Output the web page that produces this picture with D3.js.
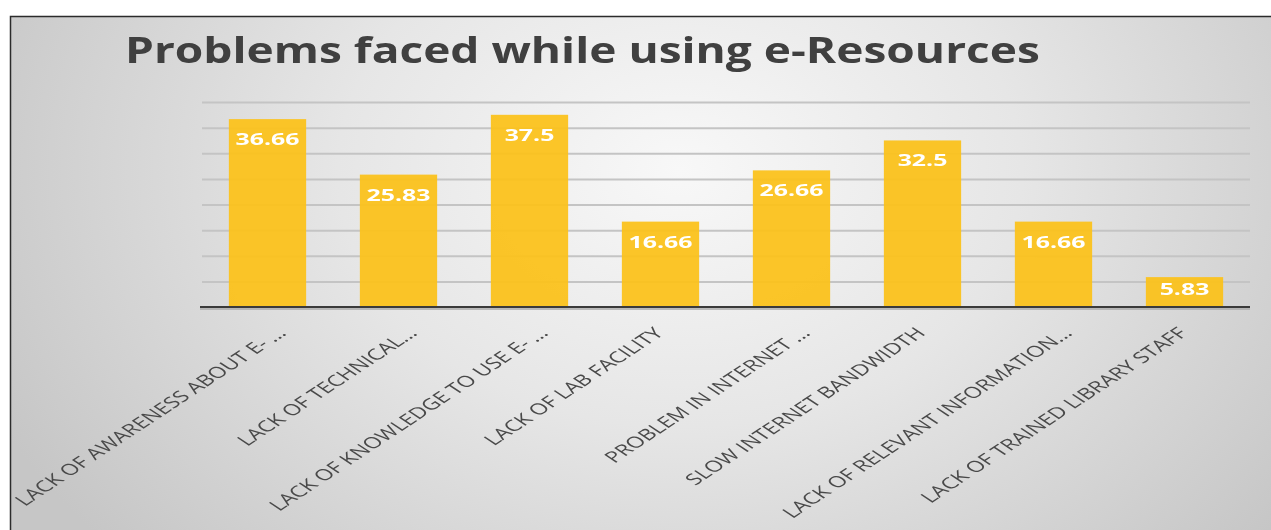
<!DOCTYPE html>
<html>
<head>
<meta charset="utf-8">
<script src="https://cdn.jsdelivr.net/npm/d3@7"></script>
<style>
  html, body { margin: 0; padding: 0; background: #fff; }
  svg { display: block; }
</style>
</head>
<body>
<svg id="chart" width="1271" height="530"></svg>
<script>
const title = "Problems faced while using e-Resources";
const categories = [
  "LACK OF AWARENESS ABOUT E- ...",
  "LACK OF TECHNICAL...",
  "LACK OF KNOWLEDGE TO USE E- ...",
  "LACK OF LAB FACILITY",
  "PROBLEM IN INTERNET ...",
  "SLOW INTERNET BANDWIDTH",
  "LACK OF RELEVANT INFORMATION...",
  "LACK OF TRAINED LIBRARY STAFF",
];
const values = [36.66, 25.83, 37.5, 16.66, 26.66, 32.5, 16.66, 5.83];
const gridTicks = [5, 10, 15, 20, 25, 30, 35, 40];

const svg = d3.select("#chart");
const width = 1271;
const height = 530;
const plot = { left: 202, right: 1250, top: 102, bottom: 307 };
const stretch = 1.52; // the picture is wider than it is tall

const defs = svg.append("defs");
const bg = defs.append("radialGradient").attr("id", "bg")
  .attr("gradientUnits", "userSpaceOnUse")
  .attr("cx", 680).attr("cy", 170).attr("r", 760)
  .attr("gradientTransform", "translate(680,170) scale(1,0.75) translate(-680,-170)");
bg.append("stop").attr("offset", "0%").attr("stop-color", "#f8f8f8");
bg.append("stop").attr("offset", "45%").attr("stop-color", "#e6e6e6");
bg.append("stop").attr("offset", "100%").attr("stop-color", "#c6c6c6");
defs.append("filter").attr("id", "soft")
  .append("feGaussianBlur").attr("stdDeviation", 0.5);

svg.append("rect").attr("x", 10).attr("y", 16).attr("width", width - 10).attr("height", height - 16)
  .attr("fill", "url(#bg)");
svg.append("path").attr("d", `M10.5,${height} V16.5 H${width}`)
  .attr("fill", "none").attr("stroke", "#2b2b2b").attr("stroke-width", 1.5);

// title, fitted to the width it has in the picture
const titleText = svg.append("text").attr("x", 0).attr("y", 0)
  .attr("font-family", "'Open Sans', sans-serif").attr("font-weight", 700)
  .attr("font-size", 36).attr("fill", "#3f3f3f").attr("filter", "url(#soft)")
  .text(title);
const titleScale = 915 / titleText.node().getComputedTextLength();
titleText.attr("transform", `translate(125,63) scale(${titleScale},1)`);

const x = d3.scaleBand().domain(categories).range([plot.left, plot.right])
  .paddingInner(0.41).paddingOuter(0.205);
const y = d3.scaleLinear().domain([0, 40]).range([plot.bottom, plot.top]);

// gridlines
svg.append("g").attr("transform", `translate(${plot.left},0)`)
  .call(d3.axisLeft(y).tickValues(gridTicks).tickSize(-(plot.right - plot.left)).tickFormat(""))
  .call((g) => g.select(".domain").remove())
  .call((g) => g.selectAll(".tick line").attr("stroke", "#c4c4c4").attr("stroke-width", 2));

// bars
svg.append("g").selectAll("rect").data(values).join("rect")
  .attr("x", (d, i) => x(categories[i]))
  .attr("y", (d) => y(d))
  .attr("width", x.bandwidth())
  .attr("height", (d) => y(0) - y(d))
  .attr("fill", "#fbc21c").attr("fill-opacity", 0.95);

// baseline
svg.append("line").attr("x1", plot.left - 2).attr("x2", plot.right).attr("y1", y(0) + 2).attr("y2", y(0) + 2)
  .attr("stroke", "#a8a8a8").attr("stroke-width", 1.5);
svg.append("line").attr("x1", plot.left - 2).attr("x2", plot.right).attr("y1", y(0)).attr("y2", y(0))
  .attr("stroke", "#3a3a3a").attr("stroke-width", 2);

// value labels inside the bar tops
const labels = svg.append("g").attr("filter", "url(#soft)");
const probe = labels.append("text").attr("font-family", "'Open Sans', sans-serif")
  .attr("font-weight", 700).attr("font-size", 16).text("36.66");
const valueScale = 64 / probe.node().getComputedTextLength();
probe.remove();
labels.selectAll("text").data(values).join("text")
  .attr("transform", (d, i) => {
    const cx = x(categories[i]) + x.bandwidth() / 2;
    const cy = Math.min(y(d) + 20, y(0) - 18) + 6;
    return `translate(${cx},${cy}) scale(${valueScale},1)`;
  })
  .attr("text-anchor", "middle")
  .attr("font-family", "'Open Sans', sans-serif").attr("font-weight", 700)
  .attr("font-size", 16).attr("fill", "#ffffff")
  .text((d) => d);

// rotated category labels
svg.append("g").attr("filter", "url(#soft)").selectAll("text").data(categories).join("text")
  .attr("transform", (d) => {
    const shift = d.endsWith("...") ? 20 : 4;
    const ax = x(d) + x.bandwidth() / 2 + shift;
    return `translate(${ax},${y(0) + 27}) scale(${stretch},1) rotate(-45)`;
  })
  .attr("text-anchor", "end")
  .attr("font-family", "'Open Sans', sans-serif").attr("font-size", 15.5)
  .attr("fill", "#4a4a4a")
  .text((d) => d);
</script>
</body>
</html>
